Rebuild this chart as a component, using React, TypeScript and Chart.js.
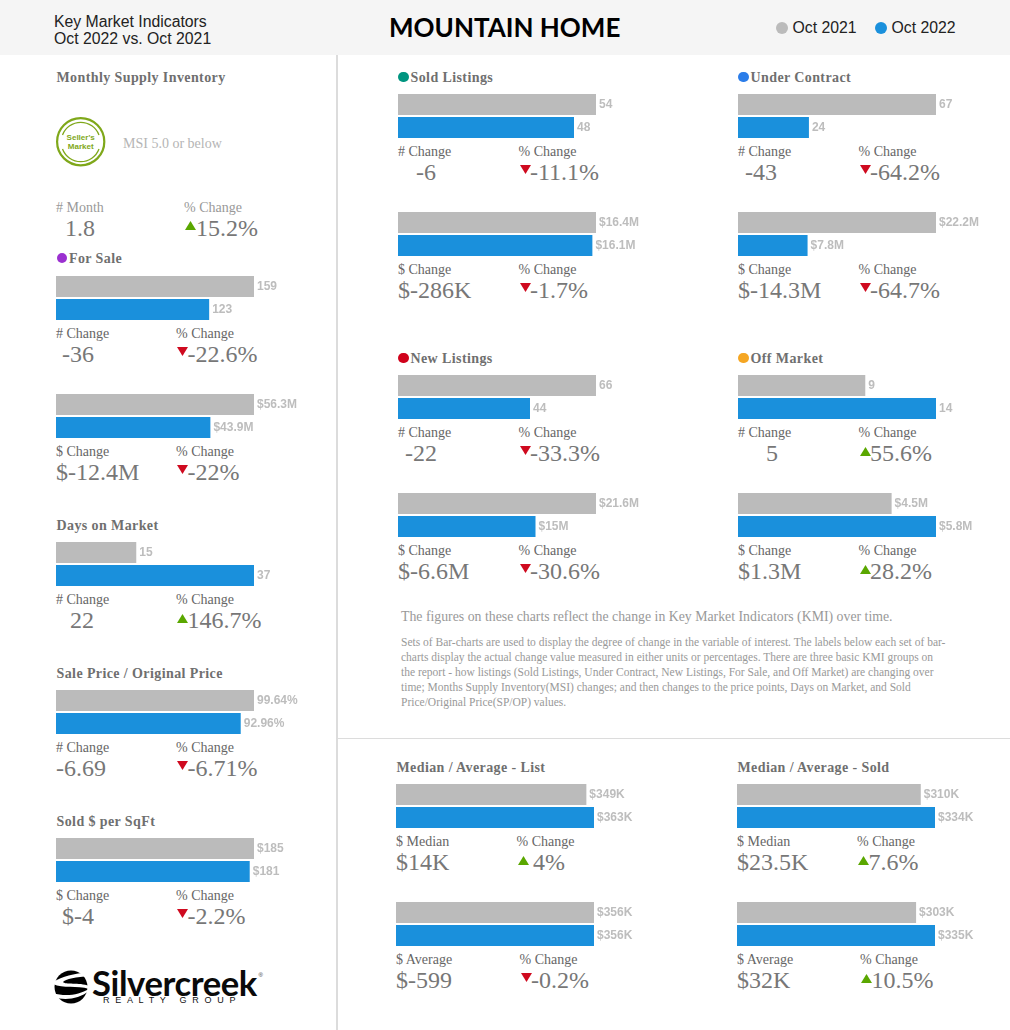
import React, { useEffect, useRef } from "react";
import { Chart, registerables } from "chart.js";

Chart.register(...registerables);

const SERIES = ["Oct 2021", "Oct 2022"];
const COLORS = ["#bbbbbb", "#1a90dc"];

const forSaleCount = [159, 123];
const forSaleCountLabels = ["159", "123"];
const forSaleVolume = [56.3, 43.9];
const forSaleVolumeLabels = ["$56.3M", "$43.9M"];
const daysOnMarket = [15, 37];
const daysOnMarketLabels = ["15", "37"];
const saleToOriginal = [99.64, 92.96];
const saleToOriginalLabels = ["99.64%", "92.96%"];
const soldPerSqft = [185, 181];
const soldPerSqftLabels = ["$185", "$181"];
const soldCount = [54, 48];
const soldCountLabels = ["54", "48"];
const soldVolume = [16.4, 16.1];
const soldVolumeLabels = ["$16.4M", "$16.1M"];
const contractCount = [67, 24];
const contractCountLabels = ["67", "24"];
const contractVolume = [22.2, 7.8];
const contractVolumeLabels = ["$22.2M", "$7.8M"];
const newCount = [66, 44];
const newCountLabels = ["66", "44"];
const newVolume = [21.6, 15];
const newVolumeLabels = ["$21.6M", "$15M"];
const offCount = [9, 14];
const offCountLabels = ["9", "14"];
const offVolume = [4.5, 5.8];
const offVolumeLabels = ["$4.5M", "$5.8M"];
const listMedian = [349, 363];
const listMedianLabels = ["$349K", "$363K"];
const listAverage = [356, 356];
const listAverageLabels = ["$356K", "$356K"];
const soldMedian = [310, 334];
const soldMedianLabels = ["$310K", "$334K"];
const soldAverage = [303, 335];
const soldAverageLabels = ["$303K", "$335K"];

const SERIF = '"Liberation Serif", serif';
const SANS = '"Liberation Sans", sans-serif';

const valueLabels = {
  id: "valueLabels",
  afterDatasetsDraw(chart: any, _a: any, opts: any) {
    const { ctx } = chart;
    ctx.save();
    ctx.font = `bold 12px ${SANS}`;
    ctx.fillStyle = "#bdbdbd";
    ctx.textAlign = "left";
    ctx.textBaseline = "middle";
    chart.data.datasets.forEach((_d: any, i: number) => {
      const el = chart.getDatasetMeta(i).data[0];
      ctx.fillText(opts.labels[i], el.x + 3, el.y + 0.5);
    });
    ctx.restore();
  },
};

function Bars({ x, y, values, labels }: { x: number; y: number; values: number[]; labels: string[] }) {
  const ref = useRef<HTMLCanvasElement>(null);
  useEffect(() => {
    const chart = new Chart(ref.current!, {
      type: "bar",
      data: {
        labels: ["value"],
        datasets: SERIES.map((name, i) => ({
          label: name,
          data: [values[i]],
          backgroundColor: COLORS[i],
          borderWidth: 0,
        })),
      },
      options: {
        indexAxis: "y",
        animation: false,
        responsive: false,
        devicePixelRatio: 1,
        layout: { padding: { left: 0, right: 92, top: 0, bottom: 0 } },
        datasets: { bar: { categoryPercentage: 1, barPercentage: 0.91 } },
        scales: {
          x: { display: false, min: 0, max: Math.max(...values) },
          y: { display: false },
        },
        plugins: {
          legend: { display: false },
          tooltip: { enabled: false },
          valueLabels: { labels },
        },
      } as any,
      plugins: [valueLabels],
    });
    return () => chart.destroy();
  }, []);
  return <canvas ref={ref} width={290} height={46} style={{ position: "absolute", left: x, top: y, display: "block" }} />;
}

function Txt({ x, y, size = 14, color = "#666", font = SERIF, weight = 400, spacing = 0, children }: any) {
  return (
    <div
      style={{
        position: "absolute",
        left: x,
        top: y,
        transform: "translateY(-50%)",
        fontFamily: font,
        fontSize: size,
        color,
        fontWeight: weight,
        letterSpacing: spacing,
        whiteSpace: "nowrap",
        lineHeight: 1.1,
      }}
    >
      {children}
    </div>
  );
}

function Title({ x, y, dot, children }: any) {
  return (
    <>
      {dot && <div style={{ position: "absolute", left: x, top: y - 5.5, width: 10.5, height: 10.5, borderRadius: "50%", background: dot }} />}
      <Txt x={dot ? x + 12.5 : x} y={y + 0.8} size={14} weight={700} color="#6f6f6f" spacing={0.4}>{children}</Txt>
    </>
  );
}

function Tri({ x, y, up }: { x: number; y: number; up: boolean }) {
  return (
    <svg style={{ position: "absolute", left: x, top: y }} width={11} height={9}>
      <polygon points={up ? "5.5,0 11,9 0,9" : "0,0 11,0 5.5,9"} fill={up ? "#5aa700" : "#cf0a1f"} />
    </svg>
  );
}

function Stat({ x, y, label, value, valueX, color = "#777" }: any) {
  return (
    <>
      <Txt x={x} y={y + 1} size={14}>{label}</Txt>
      <Txt x={valueX ?? x} y={y + 21} size={24} color={color}>{value}</Txt>
    </>
  );
}

function Pct({ x, y, value, up, label = "% Change", textX }: any) {
  return (
    <>
      <Txt x={x} y={y + 1} size={14}>{label}</Txt>
      <Tri x={x + 1} y={y + (up ? 15 : 14)} up={up} />
      <Txt x={textX ?? x + 11.5} y={y + 21} size={24} color="#777">{value}</Txt>
    </>
  );
}

function SellerLogo() {
  const g = "#7fa81a";
  return (
    <svg style={{ position: "absolute", left: 55, top: 116 }} width={52} height={52} viewBox="0 0 52 52">
      <circle cx={25.7} cy={25.7} r={23.6} fill="none" stroke={g} strokeWidth={2.2} />
      <path d="M7.5 19 A19.5 19.5 0 0 1 44 19" fill="none" stroke={g} strokeWidth={1.3} />
      <path d="M7.5 33 A19.5 19.5 0 0 0 44 33" fill="none" stroke={g} strokeWidth={1.3} />
      <text x={25.7} y={24} textAnchor="middle" fontFamily={SANS} fontWeight={700} fontSize={8} fill={g}>Seller's</text>
      <text x={25.7} y={33} textAnchor="middle" fontFamily={SANS} fontWeight={700} fontSize={8} fill={g}>Market</text>
    </svg>
  );
}

function SilvercreekLogo() {
  return (
    <>
      <svg style={{ position: "absolute", left: 53, top: 969 }} width={36} height={36} viewBox="0 0 36 36">
        <circle cx={18} cy={18} r={16.5} fill="#000" />
        <path d="M0 13 C10 7 20 5 36 3 L36 7 C24 8 12 10 10 13 C12 16 26 13 36 17 L36 20 C24 16 10 20 0 15 Z" fill="#fff" />
        <path d="M0 24 C12 28 26 26 36 20 L36 22 C26 30 12 32 0 28 Z" fill="#fff" />
      </svg>
      <Txt x={92} y={982.5} size={34.6} font="Lato, sans-serif" weight={700} color="#0a0a0a" spacing={-0.4}>Silvercreek</Txt>
      <Txt x={103} y={1001} size={9} font={SANS} color="#111" spacing={5.7}>REALTY GROUP</Txt>
      <Txt x={258.5} y={974.5} size={6} font={SANS} color="#333">®</Txt>
    </>
  );
}

export default function App() {
  return (
    <div style={{ position: "absolute", left: 0, top: 0, width: 1010, height: 1030, overflow: "hidden", background: "#fff" }}>
      <div style={{ position: "absolute", left: 0, top: 0, width: 1010, height: 55, background: "#f5f5f5" }} />
      <div style={{ position: "absolute", left: 336, top: 55, width: 1.5, height: 975, background: "#dcdcdc" }} />
      <div style={{ position: "absolute", left: 337, top: 738, width: 673, height: 1.2, background: "#dcdcdc" }} />

      <Txt x={54} y={21.5} size={15.8} font={SANS} color="#222">Key Market Indicators</Txt>
      <Txt x={54} y={38.5} size={15.8} font={SANS} color="#222">Oct 2022 vs. Oct 2021</Txt>
      <Txt x={389} y={27} size={26} font="Lato, sans-serif" weight={700} color="#000">MOUNTAIN HOME</Txt>
      <div style={{ position: "absolute", left: 776, top: 22, width: 12, height: 12, borderRadius: "50%", background: COLORS[0] }} />
      <Txt x={792.5} y={27.5} size={15.8} font={SANS} color="#222">{SERIES[0]}</Txt>
      <div style={{ position: "absolute", left: 875, top: 22, width: 12, height: 12, borderRadius: "50%", background: COLORS[1] }} />
      <Txt x={891.5} y={27.5} size={15.8} font={SANS} color="#222">{SERIES[1]}</Txt>

      {/* Left column */}
      <Title x={56.5} y={77}>Monthly Supply Inventory</Title>
      <SellerLogo />
      <Txt x={123} y={143.5} size={14} color="#b5b5b5">MSI 5.0 or below</Txt>
      <Txt x={56} y={208} size={14} color="#999">#&nbsp;Month</Txt>
      <Txt x={65} y={228} size={24} color="#777">1.8</Txt>
      <Txt x={184} y={208} size={14} color="#999">% Change</Txt>
      <Tri x={185} y={221} up />
      <Txt x={196} y={228} size={24} color="#777">15.2%</Txt>

      <Title x={56.5} y={258} dot="#9b30d0">For Sale</Title>
      <Bars x={56} y={275} values={forSaleCount} labels={forSaleCountLabels} />
      <Stat x={56} y={333} label="# Change" value="-36" valueX={62} />
      <Pct x={176} y={333} value="-22.6%" />
      <Bars x={56} y={393} values={forSaleVolume} labels={forSaleVolumeLabels} />
      <Stat x={56} y={451} label="$ Change" value="$-12.4M" />
      <Pct x={176} y={451} value="-22%" />

      <Title x={56.5} y={525}>Days on Market</Title>
      <Bars x={56} y={541} values={daysOnMarket} labels={daysOnMarketLabels} />
      <Stat x={56} y={599} label="# Change" value="22" valueX={70} />
      <Pct x={176} y={599} value="146.7%" up />

      <Title x={56.5} y={673}>Sale Price / Original Price</Title>
      <Bars x={56} y={689} values={saleToOriginal} labels={saleToOriginalLabels} />
      <Stat x={56} y={747} label="# Change" value="-6.69" />
      <Pct x={176} y={747} value="-6.71%" />

      <Title x={56.5} y={821}>Sold $ per SqFt</Title>
      <Bars x={56} y={837} values={soldPerSqft} labels={soldPerSqftLabels} />
      <Stat x={56} y={895} label="$ Change" value="$-4" valueX={62} />
      <Pct x={176} y={895} value="-2.2%" />
      <SilvercreekLogo />

      {/* Sold Listings */}
      <Title x={398} y={77} dot="#009580">Sold Listings</Title>
      <Bars x={398} y={93} values={soldCount} labels={soldCountLabels} />
      <Stat x={398} y={151} label="# Change" value="-6" valueX={416} />
      <Pct x={518.5} y={151} value="-11.1%" />
      <Bars x={398} y={211} values={soldVolume} labels={soldVolumeLabels} />
      <Stat x={398} y={269} label="$ Change" value="$-286K" />
      <Pct x={518.5} y={269} value="-1.7%" />

      {/* Under Contract */}
      <Title x={738} y={77} dot="#2b7de9">Under Contract</Title>
      <Bars x={738} y={93} values={contractCount} labels={contractCountLabels} />
      <Stat x={738} y={151} label="# Change" value="-43" valueX={745} />
      <Pct x={858.5} y={151} value="-64.2%" />
      <Bars x={738} y={211} values={contractVolume} labels={contractVolumeLabels} />
      <Stat x={738} y={269} label="$ Change" value="$-14.3M" />
      <Pct x={858.5} y={269} value="-64.7%" />

      {/* New Listings */}
      <Title x={398} y={358} dot="#d0021b">New Listings</Title>
      <Bars x={398} y={374} values={newCount} labels={newCountLabels} />
      <Stat x={398} y={432} label="# Change" value="-22" valueX={405} />
      <Pct x={518.5} y={432} value="-33.3%" />
      <Bars x={398} y={492} values={newVolume} labels={newVolumeLabels} />
      <Stat x={398} y={550} label="$ Change" value="$-6.6M" />
      <Pct x={518.5} y={550} value="-30.6%" />

      {/* Off Market */}
      <Title x={738} y={358} dot="#f5a623">Off Market</Title>
      <Bars x={738} y={374} values={offCount} labels={offCountLabels} />
      <Stat x={738} y={432} label="# Change" value="5" valueX={766} />
      <Pct x={858.5} y={432} value="55.6%" up />
      <Bars x={738} y={492} values={offVolume} labels={offVolumeLabels} />
      <Stat x={738} y={550} label="$ Change" value="$1.3M" />
      <Pct x={858.5} y={550} value="28.2%" up />

      {/* Notes */}
      <Txt x={401} y={617} size={13.8} color="#999">The figures on these charts reflect the change in Key Market Indicators (KMI) over time.</Txt>
      <Txt x={401} y={642} size={11.5} color="#999">Sets of Bar-charts are used to display the degree of change in the variable of interest. The labels below each set of bar-</Txt>
      <Txt x={401} y={657} size={11.5} color="#999">charts display the actual change value measured in either units or percentages. There are three basic KMI groups on</Txt>
      <Txt x={401} y={672} size={11.5} color="#999">the report - how listings (Sold Listings, Under Contract, New Listings, For Sale, and Off Market) are changing over</Txt>
      <Txt x={401} y={687} size={11.5} color="#999">time; Months Supply Inventory(MSI) changes; and then changes to the price points, Days on Market, and Sold</Txt>
      <Txt x={401} y={702} size={11.5} color="#999">Price/Original Price(SP/OP) values.</Txt>

      {/* Median / Average - List */}
      <Title x={396.5} y={767}>Median / Average - List</Title>
      <Bars x={396} y={783} values={listMedian} labels={listMedianLabels} />
      <Stat x={396} y={841} label="$ Median" value="$14K" />
      <Pct x={516.5} y={841} value="4%" up textX={533} />
      <Bars x={396} y={901} values={listAverage} labels={listAverageLabels} />
      <Stat x={396} y={959} label="$ Average" value="$-599" />
      <Pct x={519.5} y={959} value="-0.2%" />

      {/* Median / Average - Sold */}
      <Title x={737.5} y={767}>Median / Average - Sold</Title>
      <Bars x={737} y={783} values={soldMedian} labels={soldMedianLabels} />
      <Stat x={737} y={841} label="$ Median" value="$23.5K" />
      <Pct x={857} y={841} value="7.6%" up />
      <Bars x={737} y={901} values={soldAverage} labels={soldAverageLabels} />
      <Stat x={737} y={959} label="$ Average" value="$32K" />
      <Pct x={860} y={959} value="10.5%" up />
    </div>
  );
}
